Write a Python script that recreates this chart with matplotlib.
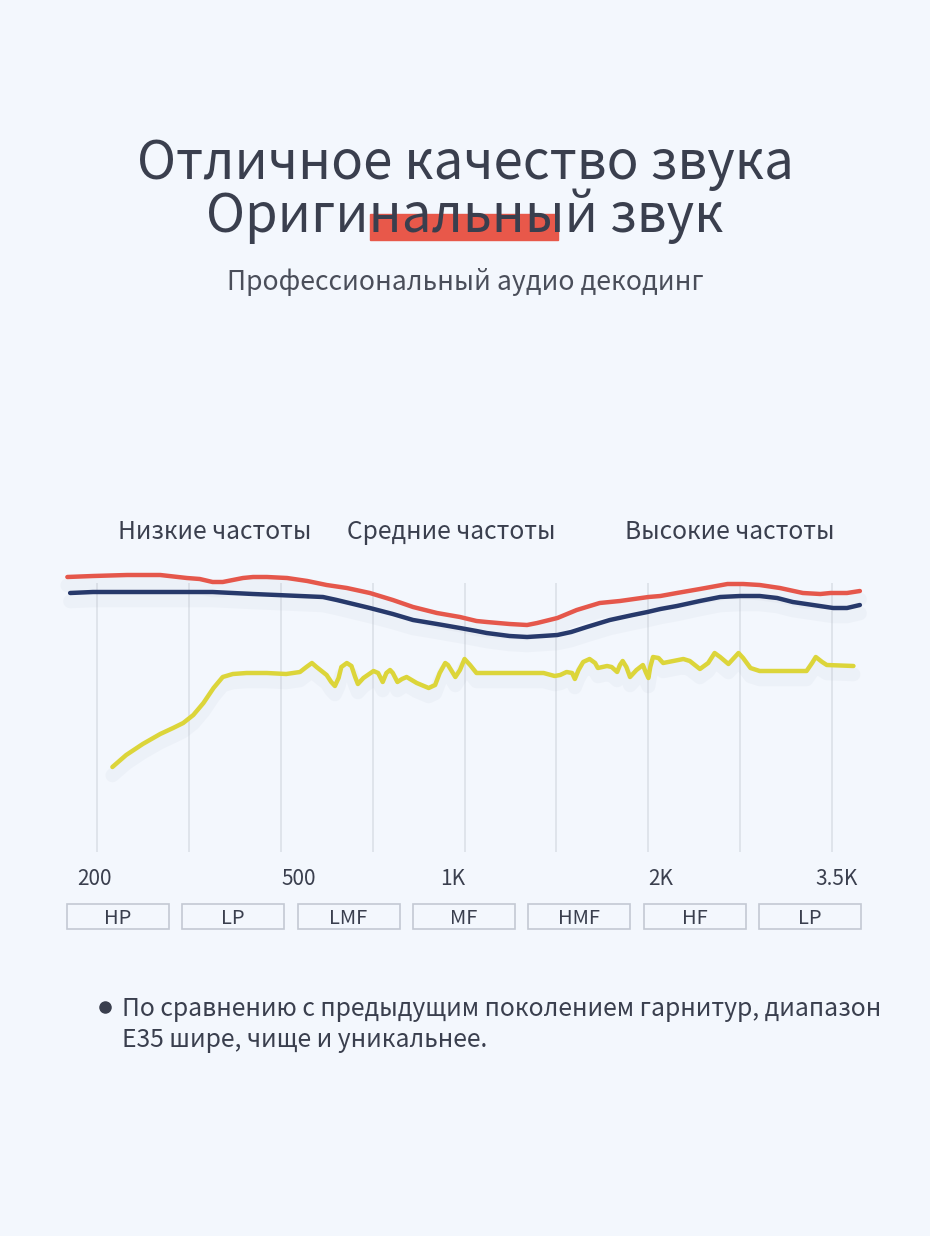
import matplotlib
matplotlib.use("Agg")
import matplotlib.pyplot as plt
import matplotlib.patheffects as pe
from matplotlib.patches import Rectangle

plt.rcParams['font.family'] = ['Noto Sans CJK SC', 'DejaVu Sans']

# ---- данные (x: позиция по сетке 0..8, y: уровень) ----
red_x = [-0.32, -0.04, 0.33, 0.69, 0.98, 1.12, 1.26, 1.37, 1.48, 1.59, 1.70, 1.85, 2.07,
         2.29, 2.50, 2.72, 2.97, 3.22, 3.44, 3.70, 3.95, 4.13, 4.24, 4.49, 4.68, 4.79,
         5.01, 5.22, 5.47, 5.69, 6.00, 6.13, 6.31, 6.56, 6.86, 7.03, 7.21, 7.43, 7.68,
         7.87, 7.98, 8.16, 8.30]
red_y = [27.5, 27.6, 27.7, 27.7, 27.4, 27.3, 27.0, 27.0, 27.2, 27.4, 27.5, 27.5, 27.4,
         27.1, 26.7, 26.4, 25.9, 25.2, 24.5, 23.9, 23.5, 23.1, 23.0, 22.8, 22.7, 22.9,
         23.4, 24.2, 24.9, 25.1, 25.5, 25.6, 25.9, 26.3, 26.8, 26.8, 26.7, 26.4, 25.9,
         25.8, 25.9, 25.9, 26.1]

navy_x = [-0.29, -0.04, 0.33, 0.69, 1.04, 1.26, 1.48, 1.70, 1.96, 2.21, 2.46, 2.61, 2.79,
          2.97, 3.22, 3.44, 3.70, 3.95, 4.13, 4.24, 4.49, 4.68, 4.85, 5.01, 5.16, 5.33,
          5.58, 5.83, 5.99, 6.13, 6.31, 6.56, 6.78, 7.00, 7.21, 7.40, 7.57, 7.79, 8.01,
          8.16, 8.30]
navy_y = [25.9, 26.0, 26.0, 26.0, 26.0, 26.0, 25.9, 25.8, 25.7, 25.6, 25.5, 25.2, 24.8,
          24.4, 23.8, 23.2, 22.8, 22.4, 22.1, 21.9, 21.6, 21.5, 21.6, 21.7, 22.0, 22.5,
          23.2, 23.7, 24.0, 24.3, 24.6, 25.1, 25.5, 25.6, 25.6, 25.4, 25.0, 24.7, 24.4,
          24.4, 24.7]

yel_x = [0.17, 0.32, 0.50, 0.69, 0.83, 0.94, 1.05, 1.16, 1.27, 1.37, 1.48, 1.63, 1.85,
         2.06, 2.21, 2.28, 2.34, 2.39, 2.50, 2.55, 2.59, 2.63, 2.66, 2.72, 2.77, 2.81,
         2.84, 2.90, 3.01, 3.06, 3.11, 3.15, 3.19, 3.22, 3.27, 3.32, 3.37, 3.48, 3.61,
         3.68, 3.73, 3.79, 3.82, 3.90, 3.95, 4.00, 4.06, 4.13, 4.28, 4.86, 4.98, 5.04,
         5.11, 5.17, 5.20, 5.24, 5.29, 5.36, 5.42, 5.45, 5.55, 5.60, 5.66, 5.69, 5.72,
         5.76, 5.80, 5.87, 5.94, 5.97, 6.00, 6.02, 6.05, 6.11, 6.16, 6.27, 6.38, 6.45,
         6.56, 6.65, 6.72, 6.78, 6.87, 6.92, 6.98, 7.03, 7.11, 7.21, 7.72, 7.78, 7.82,
         7.89, 7.94, 8.23]
yel_y = [8.5, 9.7, 10.8, 11.8, 12.4, 12.9, 13.7, 14.9, 16.4, 17.5, 17.8, 17.9, 17.9,
         17.8, 18.0, 18.5, 18.9, 18.5, 17.7, 17.0, 16.6, 17.4, 18.5, 18.9, 18.6, 17.5,
         16.8, 17.4, 18.1, 17.9, 17.0, 17.9, 18.2, 17.9, 17.0, 17.3, 17.5, 16.9, 16.4,
         16.7, 17.9, 18.9, 18.7, 17.5, 18.2, 19.3, 18.7, 17.9, 17.9, 17.9, 17.6, 17.7,
         18.0, 17.9, 17.3, 18.2, 19.0, 19.3, 18.9, 18.4, 18.6, 18.5, 18.0, 18.7, 19.1,
         18.5, 17.5, 18.2, 18.7, 18.0, 17.4, 18.5, 19.5, 19.4, 18.9, 19.1, 19.3, 19.1,
         18.3, 18.9, 19.9, 19.5, 18.8, 19.3, 19.9, 19.4, 18.4, 18.1, 18.1, 18.9, 19.5,
         19.0, 18.7, 18.6]

grid_pos = [0, 1, 2, 3, 4, 5, 6, 7, 8]
tick_labels = ['200', '500', '1K', '2K', '3.5K']
tick_pos = [-0.02, 2.20, 3.87, 6.13, 8.05]
bands = ['HP', 'LP', 'LMF', 'MF', 'HMF', 'HF', 'LP']
zones = ['Низкие частоты', 'Средние частоты', 'Высокие частоты']

title1 = 'Отличное качество звука'
title2 = 'Оригинальный звук'
subtitle = 'Профессиональный аудио декодинг'
note1 = 'По сравнению с предыдущим поколением гарнитур, диапазон'
note2 = 'E35 шире, чище и уникальнее.'

BG = '#f3f7fd'
INK = '#3a3f4e'
RED = '#e5574b'
NAVY = '#27396b'
YEL = '#dcd53a'

fig = plt.figure(figsize=(9.3, 12.36), dpi=100, facecolor=BG)

# фон и текстовые блоки в пиксельных координатах
bg = fig.add_axes([0, 0, 1, 1])
bg.set_xlim(0, 930)
bg.set_ylim(1236, 0)
bg.axis('off')
bg.set_facecolor(BG)

bg.add_patch(Rectangle((370, 214), 188, 26, color='#e8584a', zorder=1))
bg.text(465, 179, title1, ha='center', va='baseline', fontsize=38, color=INK, zorder=2)
bg.text(465, 232, title2, ha='center', va='baseline', fontsize=38, color=INK, zorder=2)
bg.text(465, 290, subtitle, ha='center', va='baseline', fontsize=19.1, color='#4a4e5a')

for cx, z in zip([215, 451, 730], zones):
    bg.text(cx, 539, z, ha='center', va='baseline', fontsize=17.7, color=INK)

for i, b in enumerate(bands):
    x0 = 67 + i * 115.3
    bg.add_patch(Rectangle((x0, 904), 102, 25, fill=False, ec='#c3c9d3', lw=1.2))
    bg.text(x0 + 51, 924, b, ha='center', va='baseline', fontsize=14.5, color=INK)

bg.plot([105], [1007], 'o', ms=8, color=INK)
bg.text(122, 1016, note1, ha='left', va='baseline', fontsize=17.8, color=INK)
bg.text(122, 1047, note2, ha='left', va='baseline', fontsize=17.8, color=INK)

# график
ax = fig.add_axes([60 / 930, 1 - 860 / 1236, 810 / 930, 300 / 1236])
ax.set_xlim(-0.40, 8.41)
ax.set_ylim(-0.8, 29.2)
ax.axis('off')
ax.patch.set_alpha(0)

ax.vlines(grid_pos, 0, 26.9, color='#dde2ea', lw=1.3, zorder=1)

shadow = [pe.SimpleLineShadow(offset=(0, -6), shadow_color='#9aa6bd', alpha=0.07, linewidth=10),
          pe.Normal()]
ax.plot(red_x, red_y, color=RED, lw=3.2, solid_capstyle='round', solid_joinstyle='round',
        path_effects=shadow, zorder=3)
ax.plot(navy_x, navy_y, color=NAVY, lw=3.2, solid_capstyle='round', solid_joinstyle='round',
        path_effects=shadow, zorder=3)
ax.plot(yel_x, yel_y, color=YEL, lw=3.2, solid_capstyle='round', solid_joinstyle='round',
        path_effects=shadow, zorder=3)

for p, t in zip(tick_pos, tick_labels):
    ax.text(p, -3.3, t, ha='center', va='baseline', fontsize=15, color=INK, clip_on=False)

fig.savefig('out.png', dpi=100, facecolor=BG)
